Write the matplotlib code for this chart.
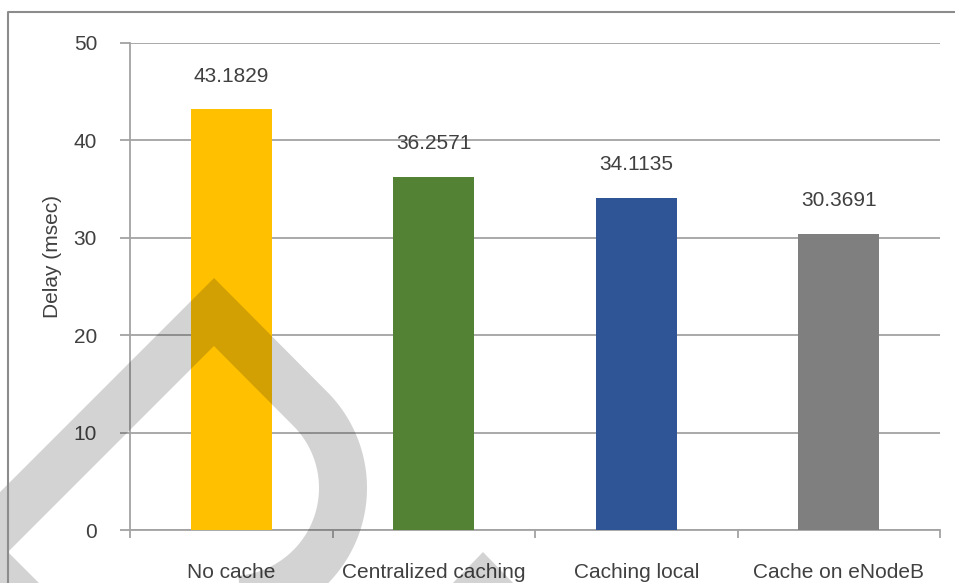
import numpy as np
import matplotlib
matplotlib.use("Agg")
import matplotlib.pyplot as plt
from matplotlib.lines import Line2D
from matplotlib.patches import Polygon

categories = ["No cache", "Centralized caching", "Caching local", "Cache on eNodeB"]
delays = [43.1829, 36.2571, 34.1135, 30.3691]
value_labels = ["43.1829", "36.2571", "34.1135", "30.3691"]
bar_colors = ["#FFC000", "#548235", "#2F5597", "#7F7F7F"]
yticks = [0, 10, 20, 30, 40, 50]

plt.rcParams['font.family'] = ['Liberation Sans', 'DejaVu Sans']
W, H = 955, 583
fig = plt.figure(figsize=(W / 100, H / 100), dpi=100)

ax = fig.add_axes([130 / W, 1 - 530 / H, (940 - 130) / W, (530 - 43) / H])
x = np.arange(len(categories))
ax.bar(x, delays, width=0.4, color=bar_colors, zorder=3)
ax.set_xlim(-0.5, len(categories) - 0.5)
ax.set_ylim(0, 50)

grid_c = "#a3a3a3"
txt_c = "#404040"
ax.set_yticks(yticks)
ax.set_yticklabels([str(v) for v in yticks])
ax.yaxis.grid(True, color=grid_c, linewidth=1.3, zorder=0)
ax.tick_params(axis='y', length=7.2, width=1.3, color=grid_c, pad=16.5,
               labelsize=15, labelcolor=txt_c)

ax.set_xticks(x)
ax.set_xticklabels(categories)
ax.set_xticks(np.arange(-0.5, len(categories)), minor=True)
ax.tick_params(axis='x', which='major', length=0, pad=23.5, labelsize=15, labelcolor=txt_c)
ax.tick_params(axis='x', which='minor', length=6, width=1.3, color=grid_c)

for s in ['top', 'right']:
    ax.spines[s].set_visible(False)
for s in ['left', 'bottom']:
    ax.spines[s].set_color(grid_c)
    ax.spines[s].set_linewidth(1.3)

for xi, v, lab in zip(x, delays, value_labels):
    ax.annotate(lab, (xi, v), xytext=(0, 20), textcoords='offset points',
                ha='center', va='baseline', fontsize=15, color=txt_c)

fig.text(52 / W, 1 - 256 / H, "Delay (msec)", rotation=90, ha='center', va='center',
         fontsize=15, color=txt_c)

# overlay in pixel coordinates: outer frame and watermark
ov = fig.add_axes([0, 0, 1, 1], zorder=10)
ov.set_xlim(0, W)
ov.set_ylim(H, 0)
ov.axis('off')
ov.patch.set_visible(False)


def band_outline(pts, hw):
    pts = np.asarray(pts, dtype=float)
    n = len(pts)
    left, right = [], []
    for i in range(n):
        normals = []
        if i > 0:
            d = pts[i] - pts[i - 1]
            d /= np.hypot(*d)
            normals.append(np.array([-d[1], d[0]]))
        if i < n - 1:
            d = pts[i + 1] - pts[i]
            d /= np.hypot(*d)
            normals.append(np.array([-d[1], d[0]]))
        if len(normals) == 1:
            off = normals[0] * hw
        else:
            m = normals[0] + normals[1]
            m /= np.hypot(*m)
            off = m * hw / np.dot(m, normals[0])
        left.append(pts[i] + off)
        right.append(pts[i] - off)
    return np.vstack([left, right[::-1]])


cx, cy, r = 231, 488, 112
t = np.radians(np.linspace(-45, 85, 80))
arc = np.column_stack([cx + r * np.cos(t), cy + r * np.sin(t)])
center_line = np.vstack([[[76, 654], [-26, 552], [214, 312]], arc])
ov.add_patch(Polygon(band_outline(center_line, 24), closed=True, facecolor="#171717",
                     alpha=0.19, edgecolor='none', clip_on=False))
ov.add_patch(Polygon([[449, 587], [483, 552], [517, 587]], closed=True,
                     facecolor="#171717", alpha=0.19, edgecolor='none', clip_on=False))

ov.add_line(Line2D([8, 8, W + 5], [H + 5, 12, 12], color="#8c8c8c", linewidth=1.5,
                   clip_on=False))

fig.savefig("out.png", dpi=100)
